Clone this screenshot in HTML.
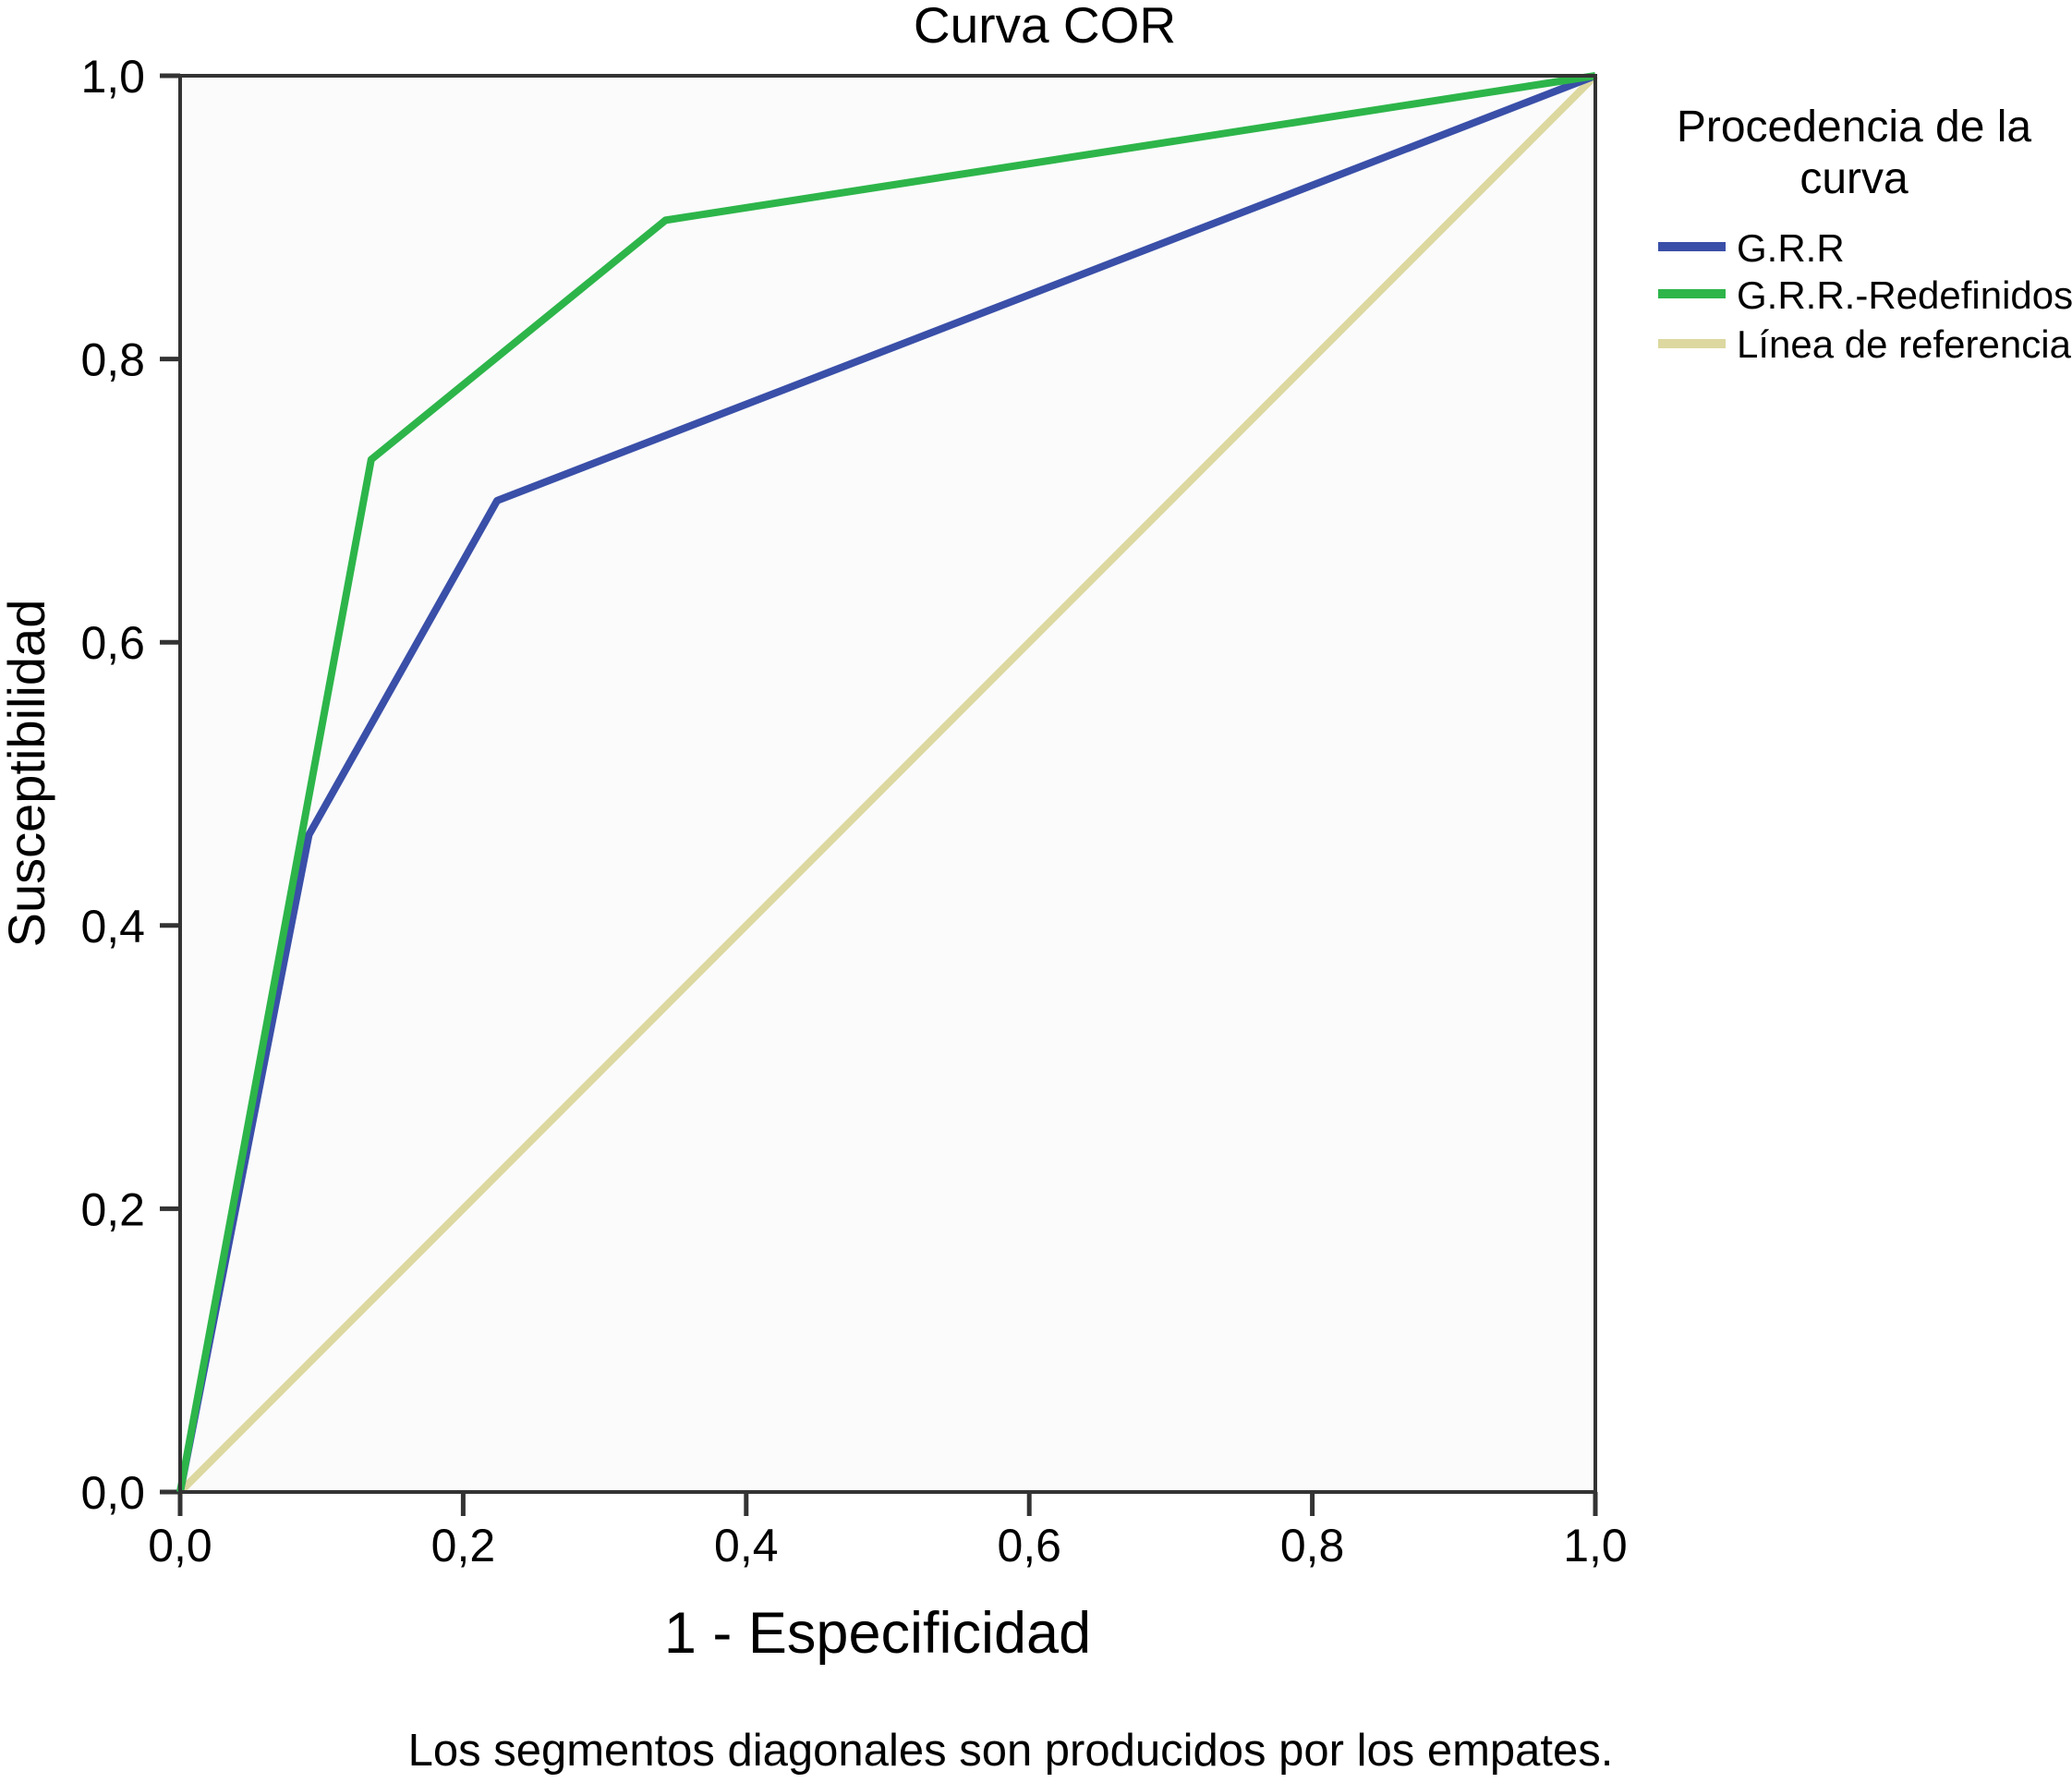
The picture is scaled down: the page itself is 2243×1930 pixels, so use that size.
<!DOCTYPE html>
<html><head><meta charset="utf-8"><style>
html,body{margin:0;padding:0;background:#fff;}
svg{display:block;font-family:"Liberation Sans",Arial,sans-serif;}
</style></head><body>
<svg id="chart" width="2243" height="1930" viewBox="0 0 2243 1930">
<text x="1131" y="46" font-size="55" text-anchor="middle">Curva COR</text>
<rect x="195" y="82" width="1532" height="1533" fill="#fbfbfb"/>
<g id="ticks"></g>
<g id="series"></g>
<rect x="195" y="82" width="1532" height="1533" fill="none" stroke="#333" stroke-width="4"/>
<text transform="translate(48,837) rotate(-90)" font-size="56" text-anchor="middle">Susceptibilidad</text>
<text x="950" y="1789" font-size="63" text-anchor="middle">1 - Especificidad</text>
<text x="1094" y="1911" font-size="49" text-anchor="middle">Los segmentos diagonales son producidos por los empates.</text>
<g>
<text x="2007" y="153" font-size="48" text-anchor="middle">Procedencia de la</text>
<text x="2007" y="209" font-size="48" text-anchor="middle">curva</text>
<line x1="1795" y1="267" x2="1868" y2="267" stroke="#3a4fa8" stroke-width="10"/>
<text x="1880" y="283" font-size="42">G.R.R</text>
<line x1="1795" y1="318" x2="1868" y2="318" stroke="#2db54a" stroke-width="10"/>
<text x="1880" y="334" font-size="42">G.R.R.-Redefinidos</text>
<line x1="1795" y1="372" x2="1868" y2="372" stroke="#dcd8a0" stroke-width="10"/>
<text x="1880" y="387" font-size="42">Línea de referencia</text>
</g>
</svg>
<script>
const tickValues = [0, 0.2, 0.4, 0.6, 0.8, 1.0];
const tickLabels = ["0,0", "0,2", "0,4", "0,6", "0,8", "1,0"];
const grrX = [0, 0.091, 0.224, 1];
const grrY = [0, 0.464, 0.70, 1];
const redefX = [0, 0.135, 0.343, 1];
const redefY = [0, 0.729, 0.898, 1];
const refX = [0, 1];
const refY = [0, 1];

const NS = "http://www.w3.org/2000/svg";
const L = 195, R = 1727, T = 82, B = 1615;
function sx(v){ return L + v * (R - L); }
function sy(v){ return B - v * (B - T); }
function mk(tag, attrs){ const e = document.createElementNS(NS, tag); for (const k in attrs) e.setAttribute(k, attrs[k]); return e; }

const ticks = document.getElementById('ticks');
tickValues.forEach((v, i) => {
  const xt = mk('line', {x1: sx(v), x2: sx(v), y1: B, y2: B + 26, stroke: '#333', 'stroke-width': 5});
  
  
  ticks.appendChild(xt);
  const xl = mk('text', {x: sx(v), y: 1690, 'font-size': 50, 'text-anchor': 'middle'});
  xl.textContent = tickLabels[i];
  
  
  ticks.appendChild(xl);
  const yt = mk('line', {x1: L - 22, x2: L, y1: sy(v), y2: sy(v), stroke: '#333', 'stroke-width': 5});
  
  
  ticks.appendChild(yt);
  const yl = mk('text', {x: 157, y: sy(v) + 18, 'font-size': 50, 'text-anchor': 'end'});
  yl.textContent = tickLabels[i];
  
  
  ticks.appendChild(yl);
});

const series = document.getElementById('series');
function drawLine(xs, ys, color, name){
  const pts = xs.map((x, i) => sx(x) + ',' + sy(ys[i])).join(' ');
  const p = mk('polyline', {points: pts, fill: 'none', stroke: color, 'stroke-width': 8, 'stroke-linejoin': 'round'});
  
  
  series.appendChild(p);
}
drawLine(refX, refY, '#dcd8a0', 'reference-line');
drawLine(grrX, grrY, '#3a4fa8', 'grr-curve');
drawLine(redefX, redefY, '#2db54a', 'grr-redefinidos-curve');
</script>
</body></html>
